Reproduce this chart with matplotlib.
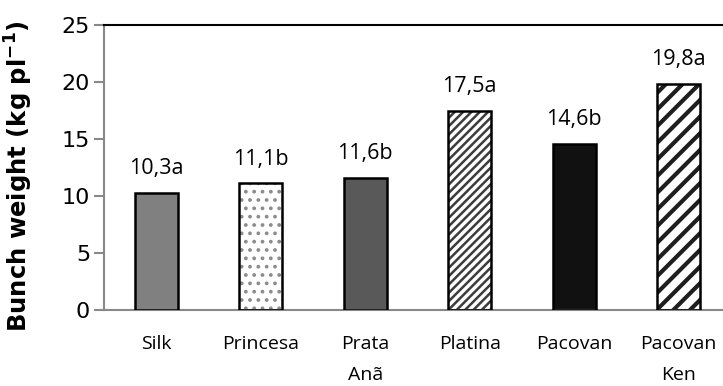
import numpy as np
import matplotlib
matplotlib.use('Agg')
import matplotlib.pyplot as plt

# dados
cultivares = ['Silk', 'Princesa', 'Prata\nAnã', 'Platina', 'Pacovan', 'Pacovan\nKen']
peso = [10.3, 11.1, 11.6, 17.5, 14.6, 19.8]
letras = ['a', 'b', 'b', 'a', 'b', 'a']

cores = ['#808080', 'white', '#595959', 'white', '#111111', 'white']
hatches = [None, '..', None, '////', None, '//']
cor_hatch = ['#808080', '#8c8c8c', '#595959', '#3c3c3c', '#111111', '#1e1e1e']
esp_hatch = [1, 1.5, 1, 1.8, 1, 3.0]

fig = plt.figure(figsize=(7.23, 3.86), dpi=100)
ax = fig.add_axes([104 / 723, 1 - 310 / 386, 627 / 723, 285 / 386])

x = np.arange(len(cultivares))
largura = 0.41

# preenchimento com hachura (sem borda) e depois a borda preta por cima
for i in range(len(x)):
    plt.rcParams['hatch.linewidth'] = esp_hatch[i]
    ax.bar(x[i], peso[i], largura, color=cores[i], hatch=hatches[i],
           edgecolor=cor_hatch[i], linewidth=0, zorder=2)
ax.bar(x, peso, largura, fill=False, edgecolor='black', linewidth=1.8, zorder=3)

# rótulos dos valores
for xi, v, l in zip(x, peso, letras):
    ax.annotate(f'{v:.1f}'.replace('.', ',') + l, (xi, v), xytext=(0, 10),
                textcoords='offset points', ha='center', va='bottom',
                fontsize=15.5, family='Open Sans')

ax.set_xlim(-0.5, 5.5)
ax.set_ylim(0, 25)
ax.set_yticks([0, 5, 10, 15, 20, 25])
ax.set_xticks(x)
ax.set_xticklabels(cultivares, family='Open Sans', fontsize=14, linespacing=1.9)
ax.tick_params(axis='x', length=0, pad=18)
ax.tick_params(axis='y', length=7, width=1.5, color='#888888', labelsize=16, pad=3)

for s in ['left', 'bottom']:
    ax.spines[s].set_color('#888888')
    ax.spines[s].set_linewidth(1.5)
ax.spines['top'].set_color('black')
ax.spines['top'].set_linewidth(1.5)
ax.spines['right'].set_visible(False)

ax.set_ylabel(r'Bunch weight (kg pl$^{\mathbf{-1}}$)', fontsize=17.5, fontweight='bold')
ax.yaxis.set_label_coords(-0.11, 0.47)

fig.savefig('out.png', dpi=100)
